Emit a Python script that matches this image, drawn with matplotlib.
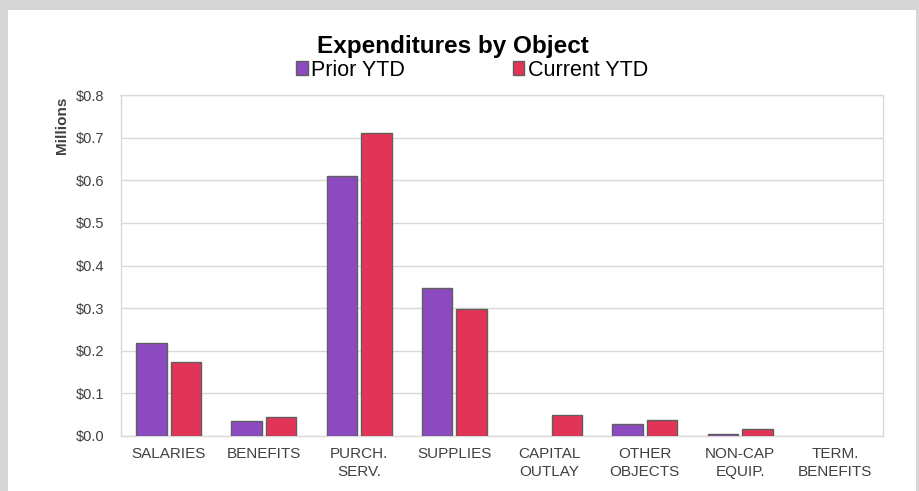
import numpy as np
import matplotlib.pyplot as plt
from matplotlib.patches import Rectangle

plt.rcParams['font.family'] = ['Liberation Sans', 'DejaVu Sans']

# data (millions)
categories = ['SALARIES', 'BENEFITS', 'PURCH.\nSERV.', 'SUPPLIES', 'CAPITAL\nOUTLAY',
              'OTHER\nOBJECTS', 'NON-CAP\nEQUIP.', 'TERM.\nBENEFITS']
prior_ytd = [0.219, 0.036, 0.610, 0.348, 0.0, 0.028, 0.004, 0.0]
current_ytd = [0.174, 0.045, 0.711, 0.299, 0.050, 0.038, 0.016, 0.0]
series_names = ['Prior YTD', 'Current YTD']
yticks = [0.0, 0.1, 0.2, 0.3, 0.4, 0.5, 0.6, 0.7, 0.8]

W, H = 920, 491
fig = plt.figure(figsize=(W / 100, H / 100), dpi=100)
fig.patch.set_facecolor('#d6d6d6')
# white card on the gray background
card = Rectangle((8 / W, 0), (916 - 8) / W, (H - 10) / H, transform=fig.transFigure,
                 facecolor='white', edgecolor='none', zorder=-5)
fig.add_artist(card)

ax = fig.add_axes([121 / W, 1 - 436 / H, (883 - 121) / W, (436 - 95) / H])
ax.set_zorder(2)
x = np.arange(len(categories))
bw = 0.32
off = 0.18
# empty bars get no outline
lw1 = [1 if v > 0 else 0 for v in prior_ytd]
lw2 = [1 if v > 0 else 0 for v in current_ytd]
b1 = ax.bar(x - off, prior_ytd, bw, color='#8b4abf', edgecolor='#5f5f5f', linewidth=lw1, zorder=3)
b2 = ax.bar(x + off, current_ytd, bw, color='#e23456', edgecolor='#5f5f5f', linewidth=lw2, zorder=3)

ax.set_xlim(-0.5, len(categories) - 0.5)
ax.set_ylim(0, 0.8)
ax.set_yticks(yticks)
ax.set_yticklabels([f'${v:.1f}' for v in yticks])
ax.set_xticks(x)
ax.set_xticklabels(categories, linespacing=1.35)
ax.tick_params(axis='both', length=0, labelcolor='#404040')
ax.tick_params(axis='y', pad=12, labelsize=10.5)
ax.tick_params(axis='x', pad=8, labelsize=11)
ax.grid(axis='y', color='#d9d9d9', linewidth=1, zorder=0)
for s in ax.spines.values():
    s.set_color('#d9d9d9')
    s.set_linewidth(1)

fig.text(62 / W, 1 - 97 / H, 'Millions', rotation=90, ha='center', va='top',
         fontsize=11, fontweight='bold', color='#404040')

fig.text(453 / W, 1 - 46 / H, 'Expenditures by Object', ha='center', va='center',
         fontsize=17.5, fontweight='bold', color='black')

leg = fig.legend([b1, b2], series_names, loc='center', bbox_to_anchor=(472 / W, 1 - 70 / H),
                 ncol=2, frameon=False, fontsize=15.5, handlelength=0.55, handleheight=0.6,
                 handletextpad=0.15, columnspacing=5.0, borderpad=0)

fig.savefig('out.png', dpi=100, facecolor=fig.get_facecolor())
